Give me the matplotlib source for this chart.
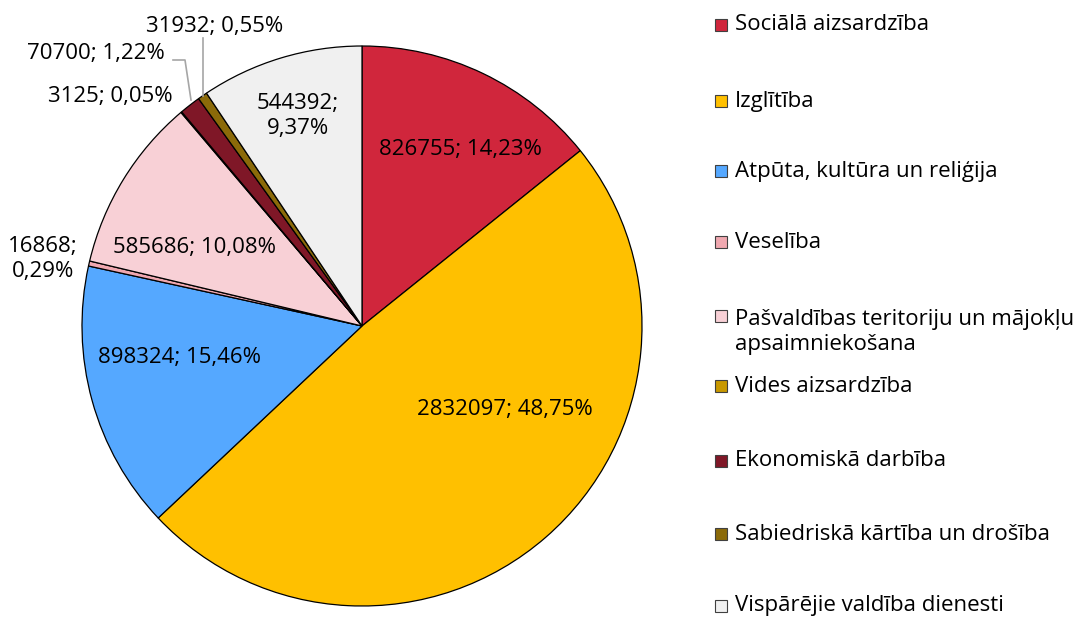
import matplotlib.pyplot as plt
from matplotlib.patches import Rectangle

plt.rcParams['font.family'] = ['Open Sans', 'DejaVu Sans']

# dati
categories = ['Sociālā aizsardzība', 'Izglītība', 'Atpūta, kultūra un reliģija', 'Veselība',
              'Pašvaldības teritoriju un mājokļu\napsaimniekošana', 'Vides aizsardzība',
              'Ekonomiskā darbība', 'Sabiedriskā kārtība un drošība', 'Vispārējie valdība dienesti']
values = [826755, 2832097, 898324, 16868, 585686, 3125, 70700, 31932, 544392]
percents = ['14,23%', '48,75%', '15,46%', '0,29%', '10,08%', '0,05%', '1,22%', '0,55%', '9,37%']
colors = ['#D0263C', '#FFC000', '#55A8FF', '#F0A8B0', '#F8D0D6', '#C89800', '#7F1727', '#8B6A09', '#F0F0F0']

# etiķešu novietojums (pīrāga koordinātās) un atdalītājs starp vērtību un procentiem
label_pos = [(0.35, 0.63), (0.51, -0.30), (-0.65, -0.114), (-1.14, 0.24), (-0.60, 0.28),
             (-0.90, 0.82), (-0.95, 0.975), (-0.525, 1.07), (-0.23, 0.75)]
label_sep = ['; ', '; ', '; ', ';\n', '; ', '; ', '; ', '; ', ';\n']

FS = 16
W, H = 1081, 617
fig = plt.figure(figsize=(W / 100, H / 100), dpi=100)
cx, cy, r = 362, 326, 280
ax = fig.add_axes([(cx - r) / W, (H - cy - r) / H, 2 * r / W, 2 * r / H])
ax.pie(values, colors=colors, startangle=90, counterclock=False, radius=1,
       wedgeprops=dict(edgecolor='black', linewidth=0.9))
ax.set_xlim(-1, 1)
ax.set_ylim(-1, 1)
ax.set_aspect('equal')
ax.axis('off')

for i in range(len(values)):
    x, y = label_pos[i]
    ax.text(x, y, f'{values[i]}{label_sep[i]}{percents[i]}', ha='center', va='center',
            fontsize=FS, color='black', clip_on=False, linespacing=1.25)


def px(p):
    return ((p[0] - cx) / r, (cy - p[1]) / r)


# līderlīnijas
for pts in [[(173, 60), (185, 60), (191, 100)], [(203, 38), (203, 96)]]:
    xy = [px(p) for p in pts]
    ax.plot([p[0] for p in xy], [p[1] for p in xy], color='#A6A6A6', lw=1.2, clip_on=False)

# leģenda
leg_y = [25, 101, 171, 242, 316, 386, 461, 534, 606]
for i, lab in enumerate(categories):
    y = leg_y[i]
    fig.patches.append(Rectangle((715 / W, (H - y - 6) / H), 12 / W, 12 / H,
                                 transform=fig.transFigure, facecolor=colors[i],
                                 edgecolor='#404040', lw=0.8))
    ty = y + 16 if '\n' in lab else y
    fig.text(735 / W, (H - ty) / H, lab, fontsize=FS, color='black',
             ha='left', va='center', linespacing=1.25)

fig.savefig('out.png', dpi=100)
